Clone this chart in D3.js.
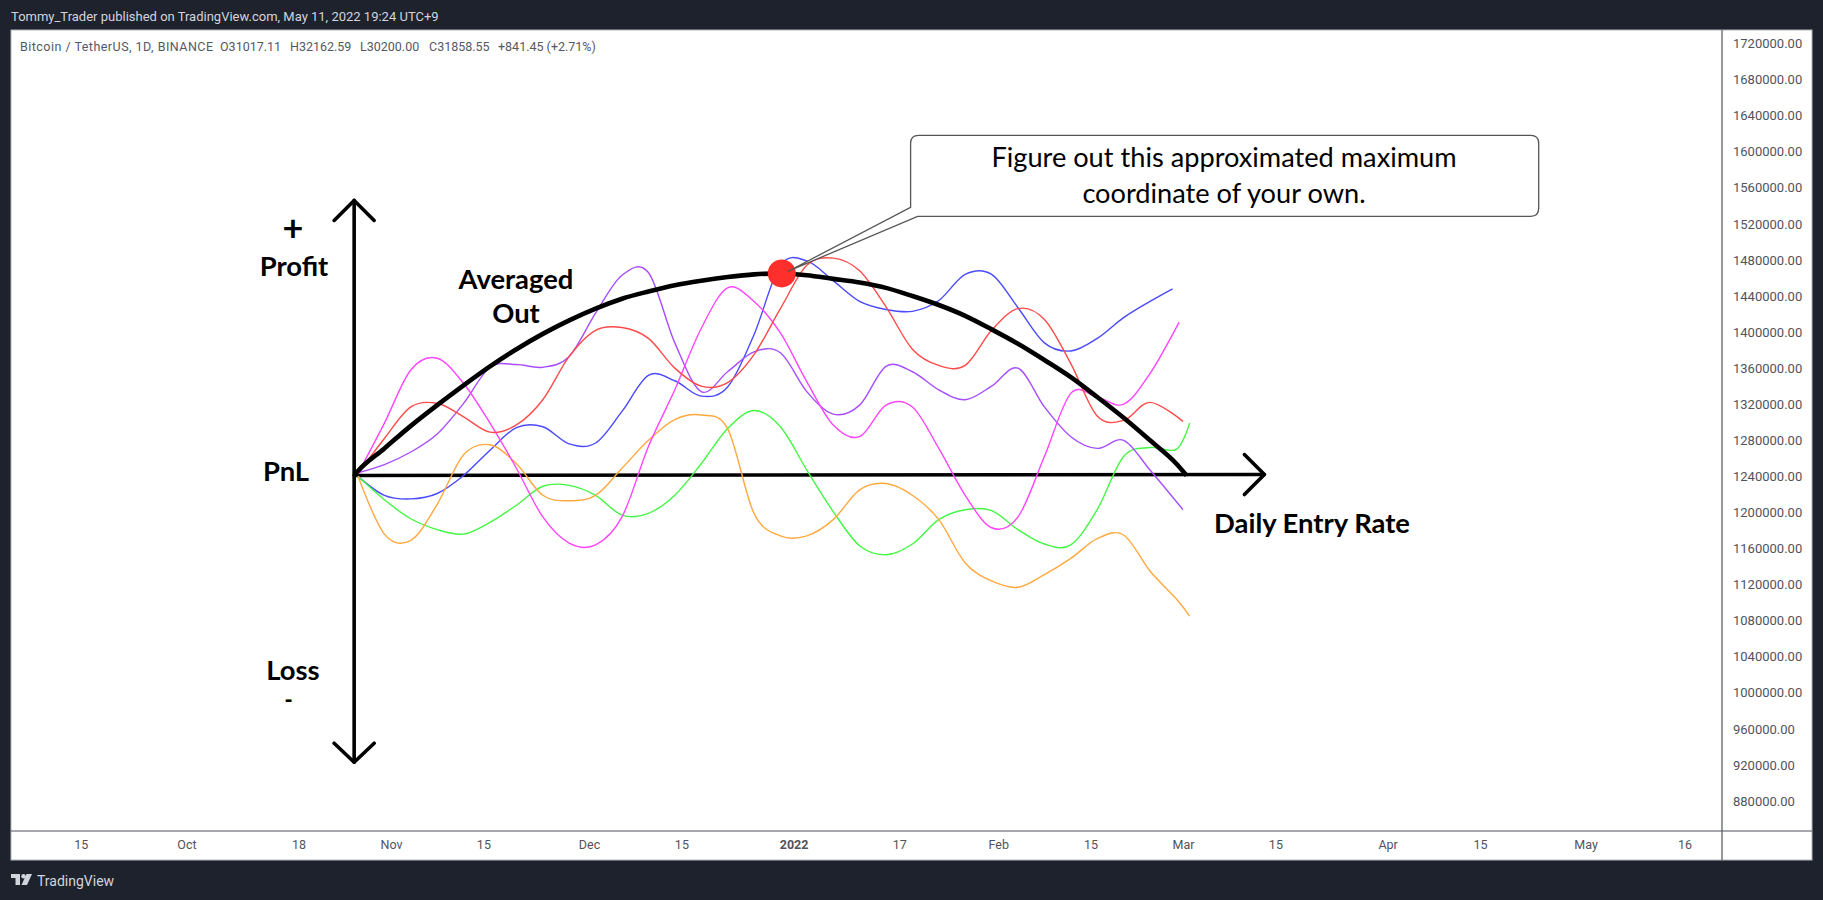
<!DOCTYPE html>
<html>
<head>
<meta charset="utf-8">
<title>Daily Entry Rate</title>
<script src="https://cdn.jsdelivr.net/npm/d3@7"></script>
<style>
  html, body { margin: 0; padding: 0; background: #1e222d; }
  svg { display: block; }
  .chrome { font-family: Roboto, sans-serif; }
  .note { font-family: Lato, sans-serif; font-weight: 700; fill: #000; text-anchor: middle; }
</style>
</head>
<body>
<div id="chart"></div>
<script>
// Every pnl series at these entry dates, 4 days apart
const entryDates = [
  '2021-10-27', '2021-10-31', '2021-11-04', '2021-11-08', '2021-11-12', '2021-11-16', '2021-11-20', '2021-11-24',
  '2021-11-28', '2021-12-02', '2021-12-06', '2021-12-10', '2021-12-14', '2021-12-18', '2021-12-22', '2021-12-26',
  '2021-12-30', '2022-01-03', '2022-01-07', '2022-01-11', '2022-01-15', '2022-01-19', '2022-01-23', '2022-01-27',
  '2022-01-31', '2022-02-04', '2022-02-08', '2022-02-12', '2022-02-16', '2022-02-20', '2022-02-24', '2022-02-28'
];

const purpleValues = [1244000, 1253000, 1267000, 1287000, 1321000, 1361000, 1364000, 1361000, 1373000, 1421000, 1463000, 1466000, 1388000, 1334000, 1356000, 1378000, 1377000, 1334000, 1309000, 1319000, 1362000, 1356000, 1336000, 1325000, 1340000, 1360000, 1317000, 1284000, 1271000, 1280000, 1247000, 1203000];
const magentaValues = [1243000, 1299000, 1358000, 1371000, 1343000, 1299000, 1249000, 1195000, 1166000, 1164000, 1195000, 1273000, 1336000, 1404000, 1449000, 1434000, 1399000, 1345000, 1297000, 1284000, 1319000, 1317000, 1271000, 1219000, 1183000, 1195000, 1262000, 1332000, 1328000, 1320000, 1354000, 1411000];
const redValues = [1243000, 1282000, 1317000, 1321000, 1306000, 1289000, 1297000, 1325000, 1373000, 1402000, 1405000, 1393000, 1360000, 1340000, 1344000, 1375000, 1426000, 1474000, 1482000, 1468000, 1428000, 1381000, 1363000, 1363000, 1402000, 1426000, 1414000, 1365000, 1307000, 1302000, 1322000, 1301000];
const blueValues = [1240000, 1219000, 1215000, 1221000, 1241000, 1269000, 1294000, 1295000, 1276000, 1277000, 1312000, 1352000, 1346000, 1329000, 1339000, 1397000, 1474000, 1479000, 1457000, 1434000, 1425000, 1423000, 1435000, 1464000, 1464000, 1427000, 1388000, 1379000, 1393000, 1416000, 1434000, 1448000];
const greenValues = [1240000, 1214000, 1193000, 1181000, 1176000, 1189000, 1208000, 1229000, 1230000, 1219000, 1197000, 1199000, 1219000, 1254000, 1293000, 1313000, 1295000, 1247000, 1201000, 1163000, 1153000, 1165000, 1192000, 1203000, 1202000, 1181000, 1165000, 1164000, 1203000, 1262000, 1272000, 1270000, 1299000];
const orangeValues = [1240000, 1176000, 1169000, 1209000, 1264000, 1275000, 1254000, 1219000, 1213000, 1219000, 1249000, 1280000, 1303000, 1308000, 1293000, 1199000, 1174000, 1174000, 1192000, 1225000, 1232000, 1219000, 1192000, 1144000, 1124000, 1117000, 1131000, 1149000, 1171000, 1175000, 1135000, 1104000, 1085000];
const averagedValues = [1246000, 1271000, 1296000, 1319000, 1341000, 1362000, 1381000, 1398000, 1413000, 1426000, 1437000, 1445000, 1452000, 1457000, 1461000, 1464000, 1465000, 1463000, 1459000, 1455000, 1449000, 1440000, 1430000, 1418000, 1403000, 1387000, 1369000, 1350000, 1328000, 1305000, 1280000, 1254000, 1241000];

// Each series stops on its own date, the last value belongs to that date
const seriesNames = ['blue', 'green', 'orange', 'purple', 'magenta', 'red'];
const seriesValues = [blueValues, greenValues, orangeValues, purpleValues, magentaValues, redValues];
const seriesColors = ['#4a4aff', '#44f744', '#ffa93f', '#a74dff', '#ff45ff', '#ff4a4a'];
const seriesLastDates = ['2022-02-27T10:00', '2022-03-02', '2022-03-02', '2022-03-01', '2022-02-28T10:00', '2022-03-01'];

const priceTicks = [1720000, 1680000, 1640000, 1600000, 1560000, 1520000, 1480000, 1440000, 1400000, 1360000, 1320000, 1280000, 1240000, 1200000, 1160000, 1120000, 1080000, 1040000, 1000000, 960000, 920000, 880000];
const timeTickDates = ['2021-09-15', '2021-10-01', '2021-10-18', '2021-11-01', '2021-11-15', '2021-12-01', '2021-12-15', '2022-01-01', '2022-01-17', '2022-02-01', '2022-02-15', '2022-03-01', '2022-03-15', '2022-04-01', '2022-04-15', '2022-05-01', '2022-05-16'];
const timeTickLabels = ['15', 'Oct', '18', 'Nov', '15', 'Dec', '15', '2022', '17', 'Feb', '15', 'Mar', '15', 'Apr', '15', 'May', '16'];

const legendParts = ['Bitcoin / TetherUS, 1D, BINANCE', 'O31017.11', 'H32162.59', 'L30200.00', 'C31858.55', '+841.45 (+2.71%)'];
const legendOffsets = [20, 220, 290, 360, 429, 498];

const width = 1823;
const height = 900;
const parseDate = s => new Date(s + (s.length > 10 ? ':00Z' : 'T00:00:00Z'));

const svg = d3.select('#chart').append('svg')
  .attr('width', width)
  .attr('height', height);

const x = d3.scaleUtc()
  .domain([parseDate('2021-09-15'), parseDate('2022-05-16')])
  .range([80.8, 1684.6]);

const y = d3.scaleLinear()
  .domain([880000, 1720000])
  .range([801, 43.5]);

// Frame of the published snapshot
svg.append('rect').attr('width', width).attr('height', height).attr('fill', '#1e222d');
svg.append('rect')
  .attr('x', 11).attr('y', 30)
  .attr('width', 1801).attr('height', 830)
  .attr('fill', '#fff')
  .attr('stroke', '#b2b5be');
svg.append('line').attr('x1', 1722).attr('x2', 1722).attr('y1', 30).attr('y2', 860).attr('stroke', '#50535e').attr('stroke-width', 1.2);
svg.append('line').attr('x1', 11).attr('x2', 1812).attr('y1', 831).attr('y2', 831).attr('stroke', '#50535e').attr('stroke-width', 1.2);

svg.append('text')
  .attr('class', 'chrome')
  .attr('x', 11).attr('y', 21)
  .attr('font-size', 13)
  .attr('fill', '#d1d4dc')
  .text('Tommy_Trader published on TradingView.com, May 11, 2022 19:24 UTC+9');

svg.append('g')
  .selectAll('text')
  .data(legendParts)
  .enter().append('text')
  .attr('class', 'chrome')
  .attr('x', (d, i) => legendOffsets[i])
  .attr('y', 51)
  .attr('font-size', 12.5)
  .attr('fill', '#555863')
  .attr('textLength', (d, i) => i === 0 ? 193 : null)
  .text(d => d);

// Price axis on the right
const priceAxis = svg.append('g')
  .attr('class', 'chrome')
  .attr('transform', 'translate(1722,0)')
  .call(d3.axisRight(y).tickValues(priceTicks).tickSize(0).tickPadding(11).tickFormat(d3.format('.2f')));
priceAxis.select('.domain').remove();
priceAxis.selectAll('text').attr('font-family', 'Roboto').attr('font-size', 13).attr('fill', '#50535e');

// Time axis at the bottom
const timeAxis = svg.append('g')
  .attr('class', 'chrome')
  .attr('transform', 'translate(0,831)')
  .call(d3.axisBottom(x).tickValues(timeTickDates.map(parseDate)).tickSize(0).tickPadding(9)
    .tickFormat((d, i) => timeTickLabels[i]));
timeAxis.select('.domain').remove();
timeAxis.selectAll('text')
  .attr('font-family', 'Roboto')
  .attr('font-size', 12.5)
  .attr('fill', '#50535e')
  .attr('font-weight', (d, i) => timeTickLabels[i] === '2022' ? 700 : 400);

// Drawn axes, held at the entry date and the break-even price
const originDate = parseDate('2021-10-26T10:00');
const axisColor = '#000';
const originPoint = [x(originDate), y(1241000)];
const topPoint = [x(originDate), y(1546000)];
const bottomPoint = [x(originDate), y(923000)];
const rightPoint = [x(parseDate('2022-03-13T08:00')), y(1242000)];

const axisLine = d3.line();
const drawn = svg.append('g')
  .attr('fill', 'none')
  .attr('stroke', axisColor)
  .attr('stroke-width', 3.6)
  .attr('stroke-linecap', 'round')
  .attr('stroke-linejoin', 'round');
drawn.append('path').attr('d', axisLine([topPoint, bottomPoint]));
drawn.append('path').attr('d', axisLine([originPoint, rightPoint]));
drawn.append('path').attr('d', axisLine([[topPoint[0] - 20, topPoint[1] + 20], topPoint, [topPoint[0] + 20, topPoint[1] + 20]]));
drawn.append('path').attr('d', axisLine([[bottomPoint[0] - 20, bottomPoint[1] - 19], bottomPoint, [bottomPoint[0] + 20, bottomPoint[1] - 19]]));
drawn.append('path').attr('d', axisLine([[rightPoint[0] - 20, rightPoint[1] - 20], rightPoint, [rightPoint[0] - 20, rightPoint[1] + 20]]));

// Pnl curves, uniform catmull-rom stays round through the turns
const pnlLine = d3.line()
  .x(d => x(d.date))
  .y(d => y(d.value))
  .curve(d3.curveCatmullRom.alpha(0));

function toPoints(values, lastDate) {
  return values.map((value, i) => ({
    date: parseDate(i < values.length - 1 ? entryDates[i] : lastDate),
    value
  }));
}

svg.append('g')
  .attr('fill', 'none')
  .attr('stroke-width', 1.4)
  .selectAll('path')
  .data(seriesNames)
  .enter().append('path')
  .attr('stroke', (d, i) => seriesColors[i])
  .attr('d', (d, i) => pnlLine(toPoints(seriesValues[i], seriesLastDates[i])));

// Averaged curve starts on the origin and ends on the horizontal axis
const averagedPoints = [{ date: originDate, value: 1241000 }]
  .concat(toPoints(averagedValues, '2022-03-01T13:00'));
svg.append('path')
  .attr('fill', 'none')
  .attr('stroke', '#000')
  .attr('stroke-width', 4.6)
  .attr('d', d3.line().x(d => x(d.date)).y(d => y(d.value)).curve(d3.curveMonotoneX)(averagedPoints));

// Maximum marker
const maxDate = parseDate('2021-12-30T05:00');
const maxPrice = 1465000;
svg.append('circle')
  .attr('cx', x(maxDate))
  .attr('cy', y(maxPrice))
  .attr('r', 14)
  .attr('fill', '#ff2f2b');

// Callout, the pointer ends on the marker
const tipX = x(maxDate) + 6;
const tipY = y(maxPrice) - 2;
const boxL = 910.6, boxR = 1538.7, boxT = 135.3, boxB = 216.3, boxR0 = 8;
const callout = d3.path();
callout.moveTo(boxL + boxR0, boxT);
callout.lineTo(boxR - boxR0, boxT);
callout.quadraticCurveTo(boxR, boxT, boxR, boxT + boxR0);
callout.lineTo(boxR, boxB - boxR0);
callout.quadraticCurveTo(boxR, boxB, boxR - boxR0, boxB);
callout.lineTo(boxL + 7, boxB);
callout.lineTo(tipX, tipY);
callout.lineTo(boxL, boxB - 9);
callout.lineTo(boxL, boxT + boxR0);
callout.quadraticCurveTo(boxL, boxT, boxL + boxR0, boxT);
callout.closePath();
svg.append('path')
  .attr('d', callout.toString())
  .attr('fill', '#fff')
  .attr('stroke', '#555')
  .attr('stroke-width', 1.3);

const calloutLines = ['Figure out this approximated maximum', 'coordinate of your own.'];
svg.append('g')
  .selectAll('text')
  .data(calloutLines)
  .enter().append('text')
  .attr('x', 1224)
  .attr('y', (d, i) => 167 + i * 35.5)
  .attr('text-anchor', 'middle')
  .attr('font-family', 'Lato, sans-serif')
  .attr('font-size', 27.2)
  .attr('fill', '#000')
  .text(d => d);

// Hand placed labels
const noteTexts = ['+', 'Profit', 'PnL', 'Loss', '-', 'Averaged', 'Out', 'Daily Entry Rate'];
const noteX = [293, 294, 286, 293, 288.5, 516, 516, 1312];
const noteY = [241, 276, 481, 680, 708, 289, 323, 533];
const noteSizes = [36, 27.4, 27.4, 27.4, 22, 27.4, 27.4, 27.4];
svg.append('g')
  .selectAll('text')
  .data(noteTexts)
  .enter().append('text')
  .attr('class', 'note')
  .attr('x', (d, i) => noteX[i])
  .attr('y', (d, i) => noteY[i])
  .attr('font-size', (d, i) => noteSizes[i])
  .style('font-weight', d => d === '-' ? 900 : null)
  .text(d => d);

// Footer brand
const logo = svg.append('g').attr('fill', '#d1d4dc').attr('transform', 'translate(11,874)');
logo.append('path').attr('d', 'M0 0H9V11H4.5V4H0Z');
logo.append('circle').attr('cx', 12.5).attr('cy', 2.2).attr('r', 2.2);
logo.append('path').attr('d', 'M15.5 0H21L16 11H10.5Z');
svg.append('text')
  .attr('class', 'chrome')
  .attr('x', 37).attr('y', 886)
  .attr('font-size', 14)
  .attr('fill', '#d1d4dc')
  .text('TradingView');
</script>
</body>
</html>
